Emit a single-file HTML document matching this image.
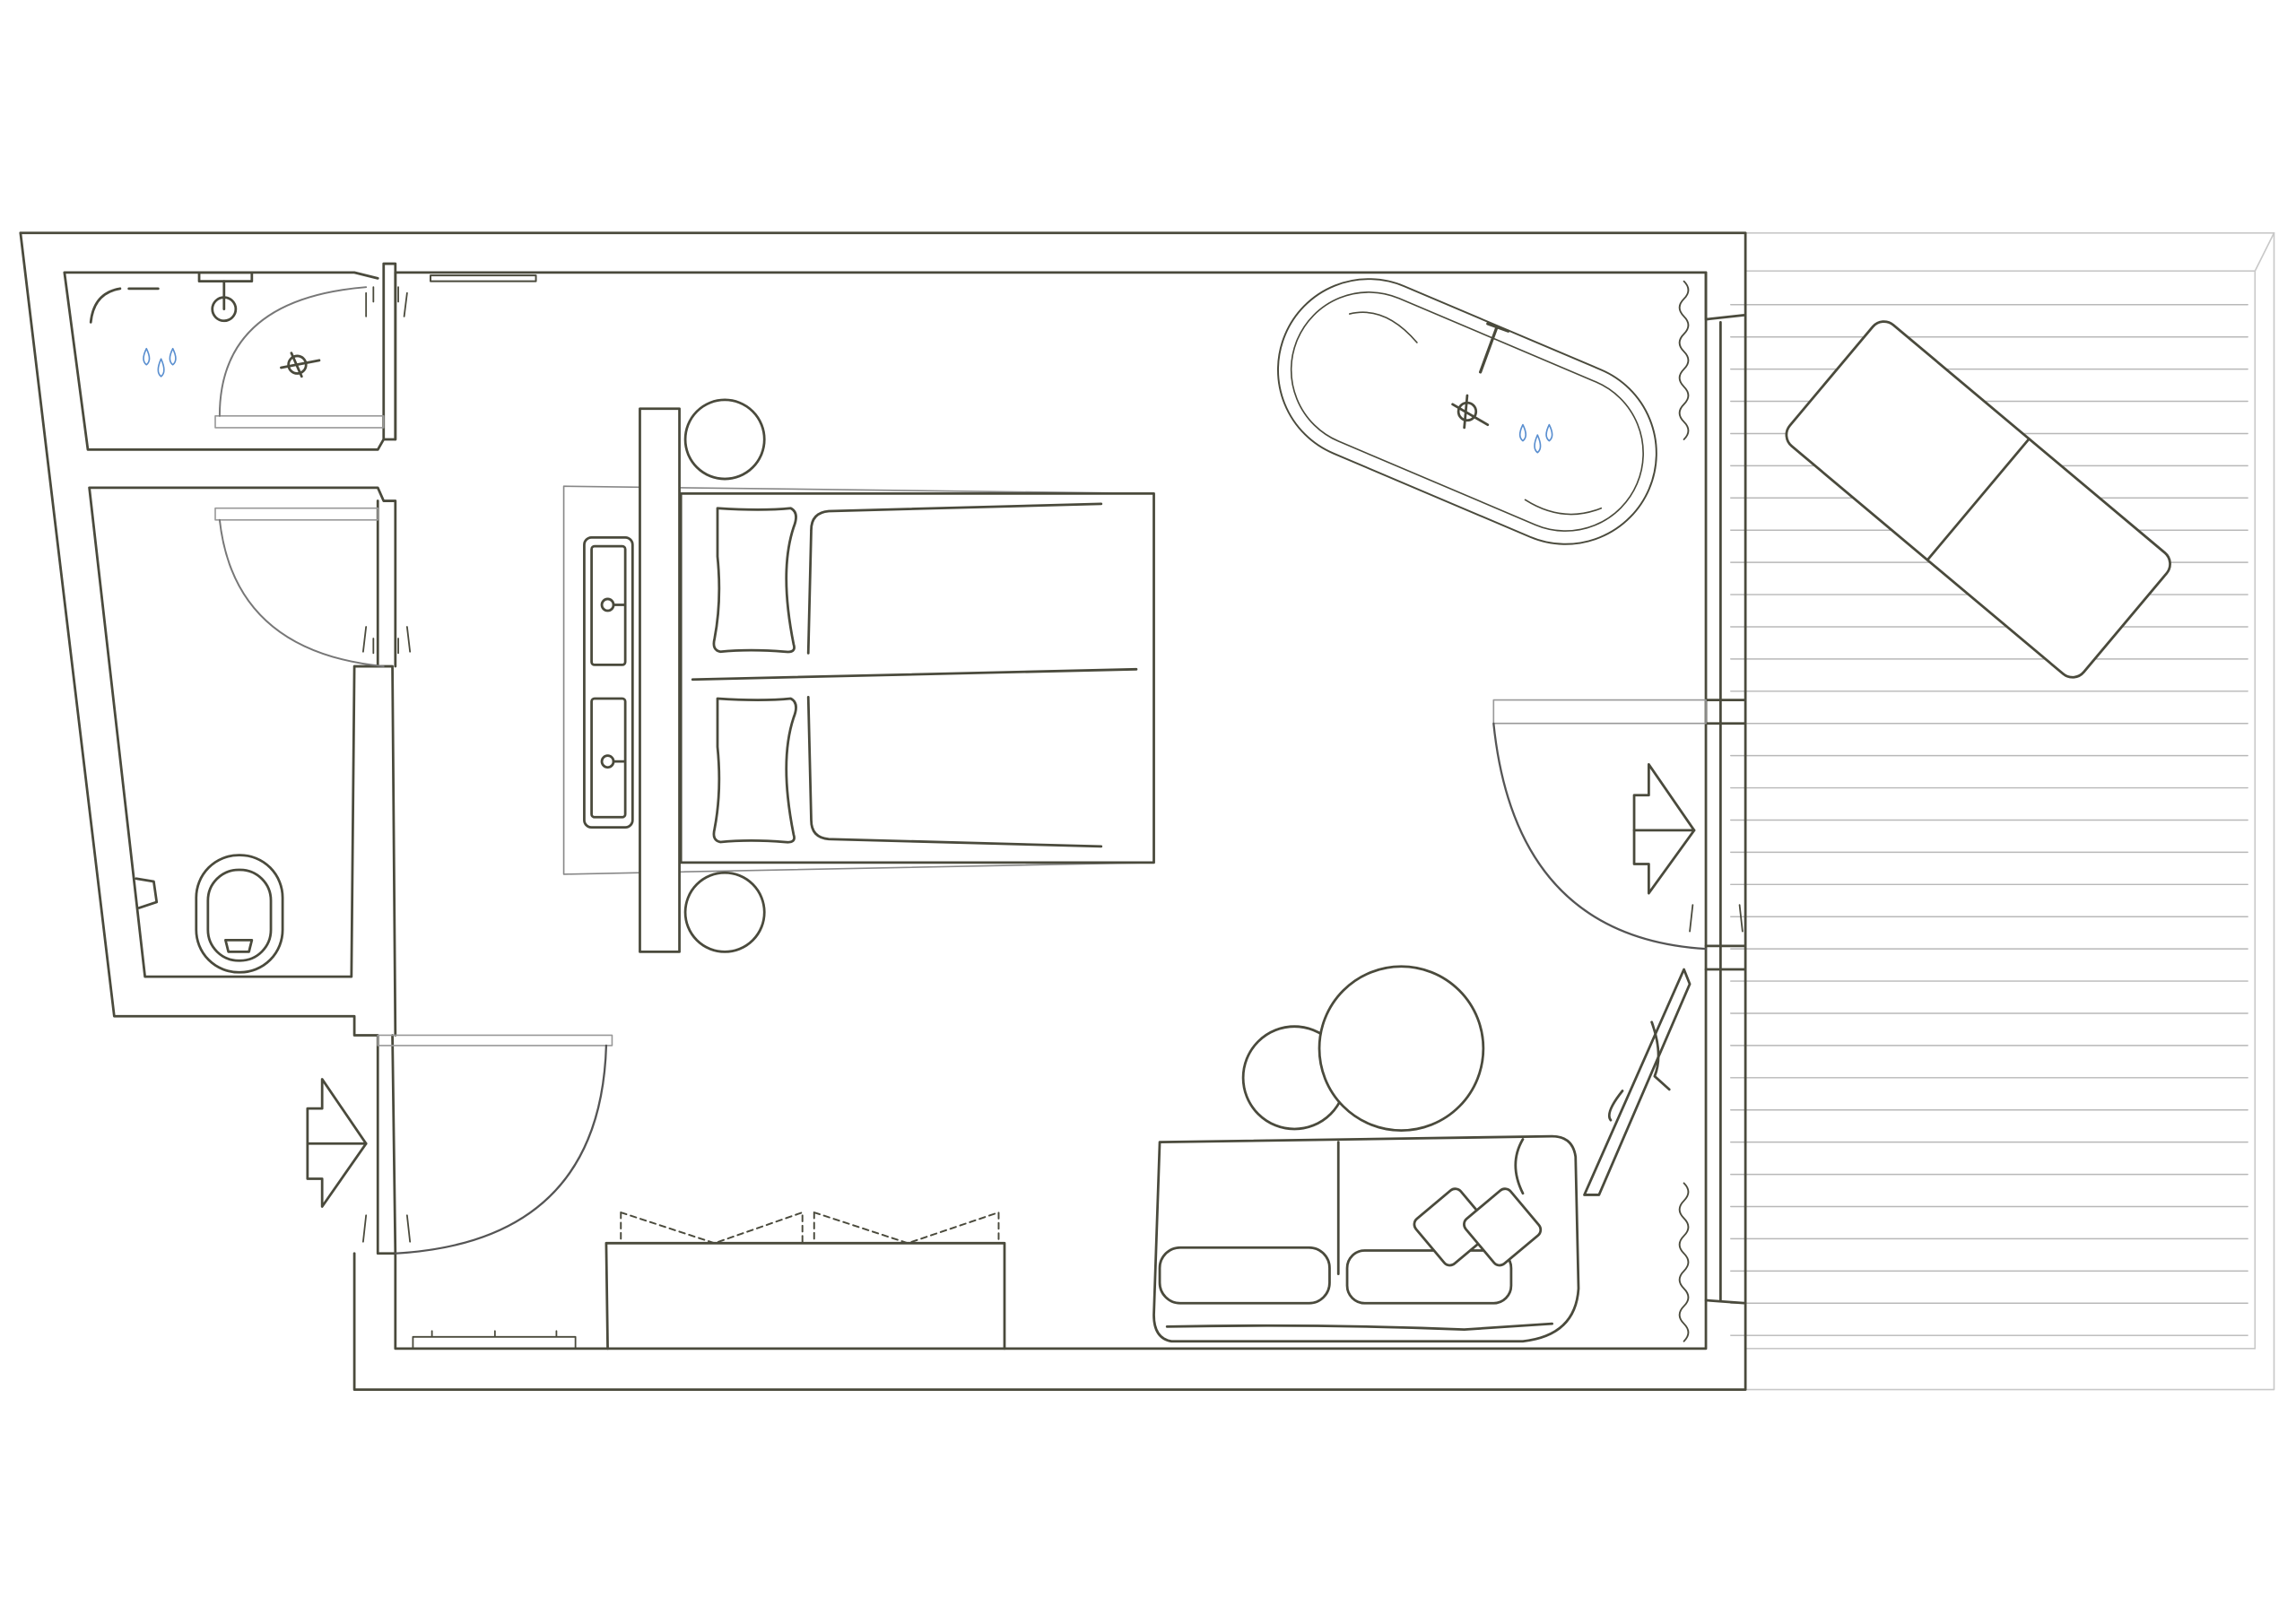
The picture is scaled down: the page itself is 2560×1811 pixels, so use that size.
<!DOCTYPE html>
<html><head><meta charset="utf-8"><style>
html,body{margin:0;padding:0;background:#fff;}
svg{display:block;}
</style></head><body>
<svg width="2560" height="1811" viewBox="0 0 1568 1109" xmlns="http://www.w3.org/2000/svg" fill="none" stroke="#4a4a3c" stroke-width="1.7" stroke-linejoin="round" stroke-linecap="round">
<g stroke="#c8c8c8" stroke-width="1">
<path d="M1192 159 L1553 159 L1553 949 L1192 949"/>
<path d="M1540 185 L1540 921 M1553 159 L1540 185"/>
<path d="M1192 185 L1540 185 M1192 921 L1540 921"/>
</g>
<g stroke="#b8b8b8" stroke-width="0.9">
<path d="M1182 208H1535M1182 230H1535M1182 252H1535M1182 274H1535M1182 296H1535M1182 318H1535M1182 340H1535M1182 362H1535M1182 384H1535M1182 406H1535M1182 428H1535M1182 450H1535M1182 472H1535M1182 494H1535M1182 516H1535M1182 538H1535M1182 560H1535M1182 582H1535M1182 604H1535M1182 626H1535M1182 648H1535M1182 670H1535M1182 692H1535M1182 714H1535M1182 736H1535M1182 758H1535M1182 780H1535M1182 802H1535M1182 824H1535M1182 846H1535M1182 868H1535M1182 890H1535M1182 912H1535"/>
</g>
<g transform="translate(1351 341) rotate(40)">
<rect x="-131" y="-54" width="262" height="108" rx="10" fill="#fff"/>
<path d="M0 -54 L0 54"/>
</g>
<path d="M14 159 L1192 159 L1192 215 L1165 218 M1165 218 L1165 186 L270 186" />
<path d="M14 159 L78 694 L242 694 L242 707 L258 707"/>
<path d="M242 856 L242 949 L1192 949 L1192 890 L1165 888"/>
<path d="M270 856 L270 921 L1165 921 L1165 186"/>
<path d="M1192 215 L1192 890 M1175 220 L1175 888 M1165 478 L1192 478 L1192 494 L1165 494 M1165 646 L1192 646 L1192 662 L1165 662"/>
<path d="M44 186 L242 186 L258 190 M44 186 L60 307 L258 307 L262 300 L270 300 L270 186"/>
<path d="M61 333 L258 333 L262 342 L270 342 L270 455 M61 333 L99 667 L240 667 L242 455 L268 455 L270 707"/>
<path d="M262 180 L270 180 L270 300 M262 180 L262 300"/>
<path d="M258 342 L258 455 M258 707 L258 856 L270 856 L268 707"/>
<path d="M136 186 L172 186 L172 192 L136 192 Z"/><circle cx="153" cy="211" r="8"/><path d="M153 192 L153 211"/>
<path d="M62 220 Q64 200 82 197 M88 197 L108 197"/>
<circle cx="203" cy="249" r="6"/><path d="M192 251 L218 246 M199 241 L206 257"/>
<g stroke="#5a8fd0" stroke-width="1"><path d="M100 238 Q96 246 100 249 Q104 246 100 238Z M110 245 Q106 254 110 257 Q114 254 110 245Z M118 238 Q114 246 118 249 Q122 246 118 238Z"/></g>
<g stroke="#999" stroke-width="1">
<path d="M147 284 L262 284 L262 292 L147 292 Z"/>
<path d="M147 347 L258 347 L258 355 L147 355 Z"/>
<path d="M258 707 L418 707 L418 714 L258 714 Z"/>
<path d="M1020 478 L1165 478 L1165 494 L1020 494 Z"/>
</g>
<path d="M150 284 Q150 204 250 196" stroke="#777" stroke-width="1.2"/>
<path d="M150 355 Q160 445 262 455" stroke="#777" stroke-width="1.2"/>
<path d="M414 714 Q410 848 270 856" stroke="#555" stroke-width="1.4"/>
<path d="M1020 494 Q1035 640 1165 648" stroke="#555" stroke-width="1.4"/>
<g stroke-width="1.1"><path d="M250 200 L250 216 M255 196 L255 206 M278 200 L276 216 M272 196 L272 206"/>
<path d="M250 428 L248 445 M255 436 L255 446 M278 428 L280 445 M272 436 L272 446"/>
<path d="M250 830 L248 848 M278 830 L280 848"/>
<path d="M1156 618 L1154 636 M1188 618 L1190 636"/></g>
<rect x="134" y="584" width="59" height="80" rx="29"/>
<rect x="142" y="594" width="43" height="62" rx="21"/>
<path d="M154 642 L172 642 L170 650 L156 650 Z"/>
<path d="M93 600 L105 602 L107 616 L95 620"/>
<path d="M220 737 L250 781 L220 824 L220 805 L210 805 L210 757 L220 757 Z"/><path d="M210 781 L250 781"/>
<path d="M1126 522 L1157 567 L1126 610 L1126 590 L1116 590 L1116 543 L1126 543 Z"/><path d="M1116 567 L1157 567"/>
<path d="M1150 192 q6 6 0 12 q-6 6 0 12 q6 6 0 12 q-6 6 0 12 q6 6 0 12 q-6 6 0 12 q6 6 0 12 q-6 6 0 12 q6 6 0 12" stroke-width="1.1"/>
<path d="M1150 808 q6 6 0 12 q-6 6 0 12 q6 6 0 12 q-6 6 0 12 q6 6 0 12 q-6 6 0 12 q6 6 0 12 q-6 6 0 12 q6 6 0 12" stroke-width="1.1"/>
<path d="M294 188 L366 188 L366 192 L294 192 Z M436 186 L464 186" stroke-width="1.2"/>
<path d="M385 332 L788 337 L788 589 L385 597 Z" stroke="#888" stroke-width="1"/>
<rect x="465" y="337" width="323" height="252" fill="#fff"/>
<rect x="399" y="367" width="33" height="198" rx="5" fill="#fff"/>
<rect x="404" y="373" width="23" height="81" rx="2"/><rect x="404" y="477" width="23" height="81" rx="2"/>
<circle cx="415" cy="413" r="4"/><circle cx="415" cy="520" r="4"/><path d="M419 413 L427 413 M419 520 L427 520"/>
<rect x="437" y="279" width="27" height="371" fill="#fff"/>
<circle cx="495" cy="300" r="27"/><circle cx="495" cy="623" r="27"/>
<path d="M473 464 L776 457"/>
<path d="M752 344 L566 349 Q554 350 554 362 L552 446"/>
<path d="M752 578 L566 573 Q554 572 554 560 L552 476"/>
<path d="M490 347 Q520 349 540 347 Q546 350 542 360 Q532 390 542 440 Q544 446 536 445 Q512 443 492 445 Q486 444 488 436 Q493 410 490 380 Z"/>
<path d="M490 477 Q520 479 540 477 Q546 480 542 490 Q532 520 542 570 Q544 576 536 575 Q512 573 492 575 Q486 574 488 566 Q493 540 490 510 Z"/>
<g transform="translate(1002 281) rotate(23)">
<rect x="-135" y="-62" width="270" height="124" rx="62" stroke-width="1.2"/>
<rect x="-126" y="-53" width="252" height="106" rx="53" stroke-width="1"/>
<path d="M-100 -30 Q-80 -45 -50 -30 M60 40 Q90 45 110 25" stroke-width="1"/>
</g>
<path d="M1022 224 L1011 254 M1016 221 L1030 226" stroke-width="2"/>
<circle cx="1002" cy="281" r="6"/><path d="M992 276 L1016 290 M1002 270 L1000 292"/>
<g stroke="#5a8fd0" stroke-width="1"><path d="M1040 290 Q1036 298 1040 301 Q1044 298 1040 290Z M1050 297 Q1046 306 1050 309 Q1054 306 1050 297Z M1058 290 Q1054 298 1058 301 Q1062 298 1058 290Z"/></g>
<circle cx="884" cy="736" r="35"/>
<circle cx="957" cy="716" r="56" fill="#fff"/>
<path d="M1150 662 L1154 672 L1092 816 L1082 816 Z"/>
<path d="M1128 698 Q1136 720 1130 735 L1140 744 M1108 745 Q1096 760 1100 765"/>
<path d="M792 780 L1060 776 Q1074 776 1076 790 L1078 880 Q1076 912 1040 916 L800 916 Q788 914 788 898 Z"/>
<path d="M914 780 L914 870 M1040 778 Q1030 795 1040 815"/>
<rect x="792" y="852" width="116" height="38" rx="14"/>
<rect x="920" y="854" width="112" height="36" rx="12"/>
<path d="M797 906 Q900 904 1000 908 L1060 904"/>
<g transform="translate(992 838) rotate(-40)"><rect x="-20" y="-20" width="40" height="40" rx="5" fill="#fff"/></g>
<g transform="translate(1026 838) rotate(-40)"><rect x="-20" y="-20" width="40" height="40" rx="5" fill="#fff"/></g>
<path d="M414 849 L686 849 L686 921 M414 849 L415 921"/>
<path d="M424 828 L424 849 M424 828 L488 849 L548 828 L548 849 M556 828 L556 849 M556 828 L620 849 L682 828 L682 849" stroke-dasharray="4 3" stroke-width="1.2"/>
<path d="M282 913 L393 913 L393 921 M282 913 L282 921 M295 909 L295 913 M338 909 L338 913 M380 909 L380 913" stroke-width="1.1"/>
</svg>
</body></html>
